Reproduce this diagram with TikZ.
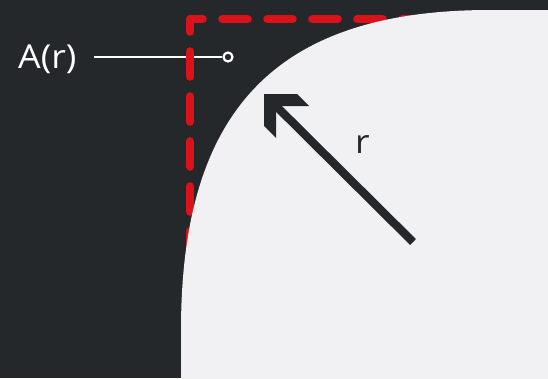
\documentclass[tikz,border=0pt]{standalone}
\usepackage{fontspec}
\setmainfont{Open Sans}
\newfontfamily\lblfont[FakeStretch=1.08]{Open Sans}
\usetikzlibrary{calc}
\definecolor{bgdark}{HTML}{25282B}
\definecolor{panel}{HTML}{F1F1F3}
\definecolor{redline}{HTML}{DA121A}
\tikzset{
  lbl/.style={inner sep=0pt, anchor=base west, font=\lblfont\fontsize{33}{40}\selectfont},
  reddash/.style={draw=redline, line width=8.7pt, line cap=round, line join=round, dash pattern=on 25pt off 20pt},
  probe/.style={circle, draw=white, fill=bgdark, line width=2.2pt, inner sep=0pt, minimum size=9pt},
  leader/.style={draw=white, line width=2.5pt},
  shaft/.style={draw=bgdark, line width=8.3pt}
}
\begin{document}
\begin{tikzpicture}[x=1pt,y=-1pt]
\useasboundingbox (0,0) rectangle (548,378);
\fill[bgdark] (0,0) rectangle (548,378);
% label A(r) with leader line
\node[lbl, text=white] (alabel) at (18,68) {A(r)};
\node[probe] (probe) at (228,57) {};
\coordinate (leadstart) at (94,57);
\draw[leader] (leadstart) -- (probe.west);
% red dashed corner
\draw[reddash] (562.5,19) -- (190,19) -- (190,395);
% light panel with smooth corner
\fill[panel] (181,395) -- (181,330) .. controls (181,109) and (277,10) .. (490,10) -- (560,10) -- (560,395) -- cycle;
% radius arrow
\coordinate (center) at (413,242);
\coordinate (tip) at (264,94);
\draw[shaft] (center) -- ($(tip)+(8,8)$);
\fill[bgdark] (tip) -- ++(33,0) -- ++(12,12) -- ++(-33,0) -- ++(0,32) -- ++(-12,-12) -- cycle;
\node[lbl, text=bgdark] (rlabel) at (355,153) {r};
\end{tikzpicture}
\end{document}
